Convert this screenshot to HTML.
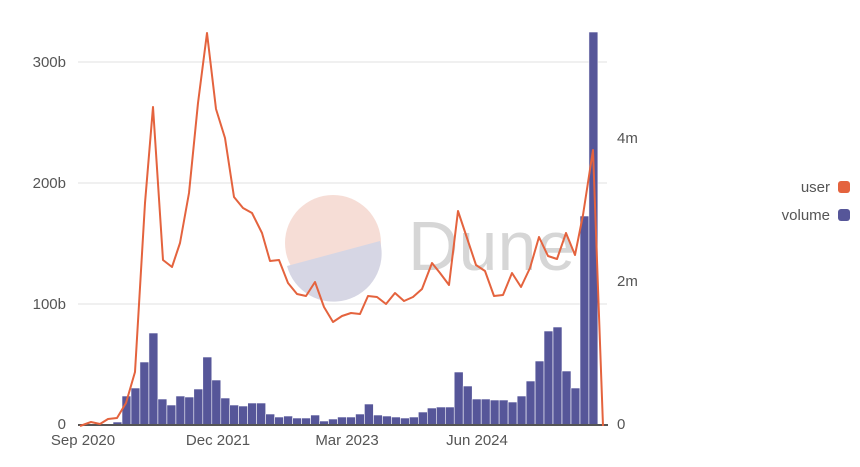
<!DOCTYPE html>
<html><head><meta charset="utf-8"><style>
body{margin:0;background:#fff;}
svg text{font-family:"Liberation Sans",sans-serif;}
</style></head><body>
<svg width="860" height="462" xmlns="http://www.w3.org/2000/svg">
<g stroke="#ebebeb" stroke-width="1.5">
<line x1="78" y1="62" x2="607" y2="62"/>
<line x1="78" y1="183" x2="607" y2="183"/>
<line x1="78" y1="304" x2="607" y2="304"/>
</g>
<circle cx="333" cy="243" r="48" fill="#f6ddd6"/>
<path d="M 287 266 L 380 241 A 48 48 0 0 1 287 266 Z" fill="#d6d6e4"/>
<text x="408" y="270" font-size="70" fill="#d6d6d6">Dune</text>
<g fill="#565699" stroke="#fff" stroke-width="0.6">
<rect x="113.0" y="422" width="9" height="3"/>
<rect x="122.0" y="396" width="9" height="29"/>
<rect x="131.0" y="388" width="9" height="37"/>
<rect x="139.9" y="362" width="9" height="63"/>
<rect x="148.9" y="333" width="9" height="92"/>
<rect x="157.9" y="399" width="9" height="26"/>
<rect x="166.9" y="405" width="9" height="20"/>
<rect x="175.9" y="396" width="9" height="29"/>
<rect x="184.8" y="397" width="9" height="28"/>
<rect x="193.8" y="389" width="9" height="36"/>
<rect x="202.8" y="357" width="9" height="68"/>
<rect x="211.8" y="380" width="9" height="45"/>
<rect x="220.8" y="398" width="9" height="27"/>
<rect x="229.7" y="405" width="9" height="20"/>
<rect x="238.7" y="406" width="9" height="19"/>
<rect x="247.7" y="403" width="9" height="22"/>
<rect x="256.7" y="403" width="9" height="22"/>
<rect x="265.7" y="414" width="9" height="11"/>
<rect x="274.6" y="417" width="9" height="8"/>
<rect x="283.6" y="416" width="9" height="9"/>
<rect x="292.6" y="418" width="9" height="7"/>
<rect x="301.6" y="418" width="9" height="7"/>
<rect x="310.6" y="415" width="9" height="10"/>
<rect x="319.5" y="421" width="9" height="4"/>
<rect x="328.5" y="419" width="9" height="6"/>
<rect x="337.5" y="417" width="9" height="8"/>
<rect x="346.5" y="417" width="9" height="8"/>
<rect x="355.5" y="414" width="9" height="11"/>
<rect x="364.4" y="404" width="9" height="21"/>
<rect x="373.4" y="415" width="9" height="10"/>
<rect x="382.4" y="416" width="9" height="9"/>
<rect x="391.4" y="417" width="9" height="8"/>
<rect x="400.4" y="418" width="9" height="7"/>
<rect x="409.3" y="417" width="9" height="8"/>
<rect x="418.3" y="412" width="9" height="13"/>
<rect x="427.3" y="408" width="9" height="17"/>
<rect x="436.3" y="407" width="9" height="18"/>
<rect x="445.3" y="407" width="9" height="18"/>
<rect x="454.2" y="372" width="9" height="53"/>
<rect x="463.2" y="386" width="9" height="39"/>
<rect x="472.2" y="399" width="9" height="26"/>
<rect x="481.2" y="399" width="9" height="26"/>
<rect x="490.2" y="400" width="9" height="25"/>
<rect x="499.1" y="400" width="9" height="25"/>
<rect x="508.1" y="402" width="9" height="23"/>
<rect x="517.1" y="396" width="9" height="29"/>
<rect x="526.1" y="381" width="9" height="44"/>
<rect x="535.1" y="361" width="9" height="64"/>
<rect x="544.0" y="331" width="9" height="94"/>
<rect x="553.0" y="327" width="9" height="98"/>
<rect x="562.0" y="371" width="9" height="54"/>
<rect x="571.0" y="388" width="9" height="37"/>
<rect x="580.0" y="216" width="9" height="209"/>
<rect x="588.9" y="32" width="9" height="393"/>
</g>
<line x1="78" y1="425" x2="608" y2="425" stroke="#555" stroke-width="2"/>
<polyline fill="none" stroke="#e4633e" stroke-width="2" stroke-linejoin="round" points="80,426 91,422 100,424 108,419 117,418 126,403 135,372 145,203 153,107 163,260 172,267 180,243 189,193 198,103 207,33 216,109 225,138 234,197 243,208 252,213 262,233 270,261 279,260 288,283 297,294 306,296 315,282 324,307 333,322 342,316 351,313 360,314 368,296 377,297 386,304 395,293 404,301 413,297 422,289 432,263 440,273 449,285 458,211 467,238 476,265 485,271 494,296 503,295 512,273 521,287 530,268 539,237 548,256 557,259 566,233 575,255 583,215 593,150 603,426"/>
<g font-size="15" fill="#555">
<text x="66" y="67" text-anchor="end">300b</text>
<text x="66" y="188" text-anchor="end">200b</text>
<text x="66" y="309" text-anchor="end">100b</text>
<text x="66" y="429" text-anchor="end">0</text>
<text x="617" y="143">4m</text>
<text x="617" y="286">2m</text>
<text x="617" y="429">0</text>
<text x="83" y="445" text-anchor="middle">Sep 2020</text>
<text x="218" y="445" text-anchor="middle">Dec 2021</text>
<text x="347" y="445" text-anchor="middle">Mar 2023</text>
<text x="477" y="445" text-anchor="middle">Jun 2024</text>
<text x="830" y="192" text-anchor="end">user</text>
<text x="830" y="220" text-anchor="end">volume</text>
</g>
<rect x="838" y="181" width="12" height="12" rx="3" fill="#e4633e"/>
<rect x="838" y="209" width="12" height="12" rx="3" fill="#565699"/>
</svg>
</body></html>
